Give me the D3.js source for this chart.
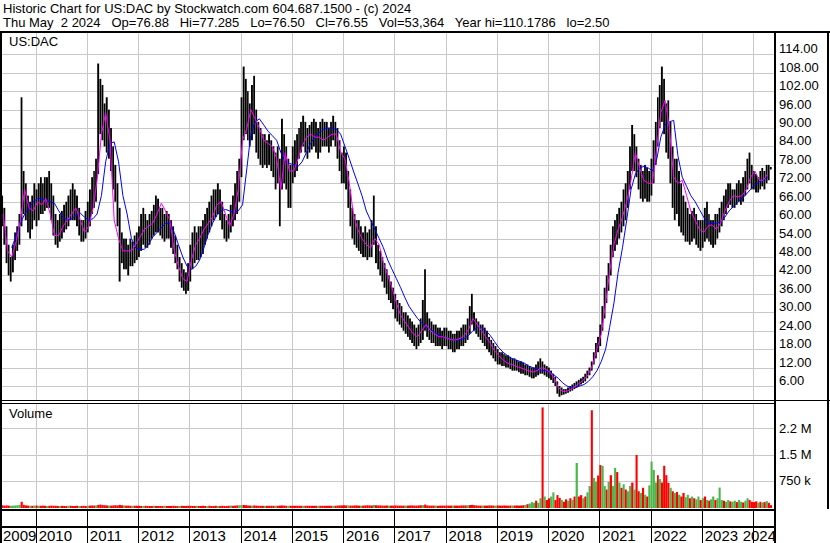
<!DOCTYPE html>
<html><head><meta charset="utf-8">
<script src="https://cdn.jsdelivr.net/npm/d3@7"></script>
<style>
html,body{margin:0;padding:0;background:#fff;}
svg{display:block;font-family:"Liberation Sans",Arial,sans-serif;}
</style></head><body>
<svg id="c" width="830" height="543"></svg>
<script>
// ---------------- DATA ----------------
// Half-month periods starting 2009-05-01 (1st and 16th of each month)
const title1 = "Historic Chart for US:DAC by Stockwatch.com 604.687.1500 - (c) 2024";
const title2 = "Thu May  2 2024   Op=76.88   Hi=77.285   Lo=76.50   Cl=76.55   Vol=53,364   Year hi=110.1786   lo=2.50";
const symbol = "US:DAC";
const priceTicks = [6,12,18,24,30,36,42,48,54,60,66,72,78,84,90,96,102,108,114];
const volTicks = [750000,1500000,2250000];
const volTickLabels = ["750 k","1.5 M","2.2 M"];
const years = [2009,2010,2011,2012,2013,2014,2015,2016,2017,2018,2019,2020,2021,2022,2023,2024];

const priceHigh = [
// 2009 (May-Dec)
68,64,58,52,48,52,56,58,62,100,76,72,68,66,68,72,
// 2010
70,72,74,72,74,74,76,72,68,62,60,62,63,65,66,68,70,72,70,68,64,60,60,63,
// 2011
66,70,74,76,80,111,106,104,98,100,96,90,84,78,72,64,56,54,54,52,54,53,55,56,
// 2012
58,62,64,62,60,62,63,65,68,67,64,64,62,63,62,60,58,55,52,48,46,44,43,46,
// 2013
52,56,58,56,58,58,60,62,64,66,68,70,70,72,70,66,62,60,62,65,68,72,76,80,
// 2014
100,110,106,102,98,104,107,96,92,90,88,88,86,88,86,84,82,84,80,93,88,84,80,78,
// 2015
84,86,88,90,92,94,92,90,91,92,93,92,90,92,93,92,92,90,92,94,92,90,86,82,
// 2016
84,82,76,70,64,62,60,60,58,56,58,56,57,60,68,58,52,50,48,46,44,42,40,38,
// 2017
36,34,33,32,30,30,29,28,27,26,25,26,28,34,44,30,28,27,26,26,25,25,24,25,
// 2018
25,24,24,23,23,24,24,25,26,26,28,32,36,30,28,27,26,26,25,24,22,21,20,19,
// 2019
18,17,17,16.5,16,16,15.5,15,15,14.5,14,14,13.5,13,13,12.5,12,12,13,14,15,14,13,12.5,
// 2020
12,11,10,9,7.5,6,5.5,5,5,5.5,6,6.5,7,7.5,8,8.5,9,10,11,12,14,17,20,22,
// 2021
26,32,38,42,46,52,58,60,62,64,66,70,72,76,84,91,88,84,80,78,76,78,77,76,
// 2022
80,86,92,100,104,110,106,98,99,92,84,80,80,76,72,68,66,64,62,63,64,62,60,60,
// 2023
60,64,66,62,60,60,62,62,64,66,68,70,72,72,70,70,72,73,72,74,76,80,82,78,
// 2024 (Jan-Apr + May 1-2)
76,75,74,76,77,76,78,78,77.3
];
const priceLow = [
// 2009
58,52,46,42,40,43,47,50,52,58,62,60,56,54,57,60,
// 2010
58,60,62,62,63,64,64,60,55,52,51,53,54,56,57,58,60,60,60,58,55,53,53,54,
// 2011
56,58,62,64,66,75,88,86,84,82,80,76,70,66,58,40,46,44,44,42,45,45,46,47,
// 2012
48,50,52,51,51,52,54,55,56,56,55,54,53,54,54,51,49,46,44,40,38,37,36,37,
// 2013
40,44,46,47,47,48,49,52,54,56,58,60,61,62,60,57,54,53,54,56,58,60,62,66,
// 2014
74,86,88,86,84,86,88,82,80,78,77,78,77,78,76,74,70,72,58,70,72,70,64,64,
// 2015
72,74,76,80,82,84,82,80,82,83,84,82,80,82,84,84,84,82,84,86,84,80,76,72,
// 2016
72,70,64,58,54,52,51,50,49,48,48,47,48,48,52,46,44,42,40,38,36,34,33,31,
// 2017
28,27,26,25,24,23,22,21,20,19,18,19,20,21,24,22,21,20,20,19,19,19,18,19,
// 2018
19,18,18,17,17,18,18,19,19,20,21,23,26,24,23,22,21,20,19,18,17,16,15,14,
// 2019
13,13,12.5,12.5,12,12,11.5,11,11,11,10.5,10,10,9.5,9.5,9,8.5,8.5,9,9.5,10,10,9.5,9,
// 2020
8.5,8,7,6,3.5,2.5,3,3.2,3.5,3.8,4.2,4.5,5,5.5,6,6.5,7,7.5,8.5,9.5,11,13,15,17,
// 2021
19,24,28,33,37,42,48,50,52,54,56,58,60,64,70,76,76,74,70,67,66,67,66,66,
// 2022
68,72,78,84,90,92,88,82,80,72,64,60,62,58,56,55,53,53,52,53,54,52,51,50,
// 2023
51,53,54,53,52,51,52,54,56,58,60,62,64,65,64,64,65,66,65,66,68,70,72,70,
// 2024
70,69,69,70,71,70,72,73,76.5
];
// Volume per half-month (thousands of shares)
const volume = [
// 2009
50,40,45,40,35,40,45,50,60,150,60,45,40,35,35,40,
// 2010
40,35,35,40,35,30,35,40,35,35,30,30,35,30,30,35,35,30,30,35,30,30,35,30,
// 2011
35,40,45,40,45,60,70,55,50,45,40,40,45,50,45,60,50,45,40,40,35,35,35,35,
// 2012
35,30,30,35,30,30,30,35,30,30,30,30,35,30,30,30,35,30,30,30,35,30,30,35,
// 2013
35,30,30,35,30,30,35,30,30,35,30,30,35,30,30,35,30,30,35,40,35,40,45,50,
// 2014
55,60,50,45,40,40,45,40,35,35,35,35,35,35,35,35,35,35,40,45,40,35,35,35,
// 2015
35,35,35,35,35,35,35,35,35,35,35,35,35,35,35,35,35,35,35,35,35,40,45,45,
// 2016
50,45,45,40,40,45,45,40,40,40,45,50,45,45,60,50,45,45,40,40,45,40,40,40,
// 2017
45,40,40,40,40,40,40,45,45,40,40,45,50,55,70,45,40,40,40,40,35,40,40,40,
// 2018
40,40,40,40,40,40,40,45,45,45,50,55,60,50,45,40,40,40,40,40,45,45,40,40,
// 2019
45,40,40,45,40,40,40,45,40,45,40,45,50,60,80,100,140,120,180,120,250,2850,300,200,
// 2020
250,300,420,200,340,260,200,150,220,180,250,200,300,1260,300,340,250,300,420,600,2770,830,720,900,
// 2021
1200,1180,600,500,720,910,600,1120,1000,700,550,650,500,450,600,700,500,1490,450,400,550,350,300,620,
// 2022
1300,1060,700,910,800,700,1180,910,690,550,450,400,430,350,300,400,280,350,250,300,250,220,300,200,
// 2023
250,300,200,180,220,300,200,250,557,200,180,150,200,160,150,180,140,200,150,130,180,250,200,150,
// 2024
140,160,120,150,130,140,170,120,53
];
// r = down day volume (red), g = up day volume (green)
const volDir =
  "rrrrgggggrrrrgrg" +
  "rgrrrgrrrrrgrrrgrrrrgrrr" +
  "grrrgrrrrrgrrrrrrgrrrgrr" +
  "rrgrrrrgrrrrgrrrrrrgrrrr" +
  "rrrgrrrrgrrrrgrrrrrgrrrg" +
  "grrrrgrrrrrgrrrrgrrrrrgr" +
  "rrrrrgrrrrrrgrrrrrrgrrrr" +
  "rrgrrrrrgrrrrrgrrrrrrgrr" +
  "rrrrrgrrrrrrrgrrrrrgrrrr" +
  "rrrgrrrrrrgrrrrrrgrrrrrg" +
  "rrrrrrrgrrrrrgrgggrggrgr" +
  "rggrrrgrrgrgrgrrgrggrggr" +
  "rggrgrggrgrgrggrgrrgrgrg" +
  "gggrgrrrrgrgrgrrggrgrggr" +
  "grgrggrgggrggrggrggrggrr" +
  "rrgrgrgrr";

// Monthly moving averages, starting May 2009 (value at mid-month)
const maShort = [
// 2009
62,50,48,53,60,70,64,63,
// 2010
66,65,67,62,55,55,58,60,62,64,60,56,
// 2011
58,64,73,88,95,86,60,54,50,50,50,52,
// 2012
54.5,57,58,59,62,65.5,63,60,50,45,41,40,
// 2013
47,52,54,57,59,61,65,66,62,58,62,70,
// 2014
86,90,96,93,90,86,85,84,80,70,82,76,
// 2015
76,80,84,87,88,87,87,86,87,88,88,82,
// 2016
80,72,62,57,54,52,51,54,52,46,42,38,
// 2017
33,29,27,25,23,22,24,26,24,23,22,22,
// 2018
21.5,21,21,21.5,22.5,24.5,28,26,24,22,20,17.5,
// 2019
16,14.5,13.5,13,12.5,12,11.5,11,10.5,11,12,11.5,
// 2020
10.5,8.5,5.5,4.3,4.3,5,6,7,8.2,9.8,13,18,
// 2021
23,33,43,52,57,61,66,73,82,77,73,72,
// 2022
72,84,95,99,90,74,72,73,68,63,60,57,
// 2023
56,58,58.5,57,59,63,66,68,67.5,68,70,74,
// 2024
76,73,73,75
];
const maLong = [
// 2009
null,null,51,55,59,62,64,66,
// 2010
67,67,66.5,66,65.5,63,61,60,60.5,61.5,62.3,61,
// 2011
60,60.5,62,68,79,85,85.5,79,68,62,54,51,
// 2012
50.5,50.5,52,54.5,56,57.5,59,59,56,52,48,45,
// 2013
44,45,47,51,55.5,59,61.5,63,63.5,63,62.5,63,
// 2014
65,77,88,92,93,91,89,87.5,86,82,79,78.5,
// 2015
78,77.5,79,82,85,87,88.5,89.5,90,90,89.5,88,
// 2016
84,80,76,72,68,63,60,57,54,51,47,44,
// 2017
41,38,35,32,30,28,26.5,25.5,24.5,23.5,22.5,22,
// 2018
21.5,21,21,21,21.5,22.5,24,25,25,24,22.5,20.5,
// 2019
18.5,17,16,15,14.5,14,13.5,12.5,12,11.5,11,11,
// 2020
10.5,9.5,8.5,7,6,5.5,5.5,6,6.5,7.5,9,11,
// 2021
14,18,25,33,43,51,60,70,75,77,77.5,77,
// 2022
76,80,87,91,92,92.5,81,74,71,68,66,63.5,
// 2023
61,59,59,59,59.5,61,63,64.5,66,67,68.5,70,
// 2024
71.5,72.5,73,74
];

// ---------------- CHART ----------------
const svg = d3.select("#c");
const W = 830, H = 543;
const plotL = 2, plotR = 774;
const priceTop = 33, priceBot = 400;
const volTop = 404, volBot = 509;
const gridColor = "#c8c8c8";

const start = new Date(2009, 4, 1);
function periodStart(i){
  const d = d3.timeMonth.offset(start, Math.floor(i/2));
  if (i % 2) d.setDate(16);
  return d;
}
function monthMid(k){
  const d = d3.timeMonth.offset(start, k);
  d.setDate(15);
  return d;
}

const x = d3.scaleTime()
  .domain([new Date(2009,3,22), new Date(2024,4,30)])
  .range([0, 774]);
const yP = d3.scaleLinear().domain([6,114]).range([386,54.3]);
const yV = d3.scaleLinear().domain([0,2250000]).range([507,428.4]);

svg.append("rect").attr("width",W).attr("height",H).attr("fill","#fff");

const defs = svg.append("defs");
defs.append("clipPath").attr("id","cp").append("rect")
  .attr("x",plotL).attr("y",priceTop).attr("width",plotR-plotL).attr("height",priceBot-priceTop);
defs.append("clipPath").attr("id","cv").append("rect")
  .attr("x",plotL).attr("y",volTop).attr("width",plotR-plotL).attr("height",volBot-volTop);

const yearDates = years.slice(1).map(y => new Date(y,0,1));

// grid
const gP = svg.append("g").attr("shape-rendering","crispEdges").attr("stroke",gridColor);
priceTicks.forEach(v => {
  gP.append("line").attr("x1",plotL).attr("x2",plotR)
    .attr("y1",Math.round(yP(v))+0.5).attr("y2",Math.round(yP(v))+0.5);
});
yearDates.forEach(d => {
  const xx = Math.round(x(d))+0.5;
  gP.append("line").attr("x1",xx).attr("x2",xx).attr("y1",priceTop).attr("y2",priceBot);
  gP.append("line").attr("x1",xx).attr("x2",xx).attr("y1",volTop).attr("y2",volBot);
});
volTicks.forEach(v => {
  gP.append("line").attr("x1",plotL).attr("x2",plotR)
    .attr("y1",Math.round(yV(v))+0.5).attr("y2",Math.round(yV(v))+0.5);
});

// price bars
const bars = svg.append("g").attr("clip-path","url(#cp)");
priceHigh.forEach((hi,i) => {
  const lo = priceLow[i];
  const x0 = x(periodStart(i)), x1 = x(periodStart(i+1));
  const y0 = yP(hi), y1 = yP(lo);
  bars.append("rect").attr("x",x0).attr("width",Math.max(1,(x1-x0)*0.85))
    .attr("y",y0).attr("height",Math.max(1,y1-y0)).attr("fill","#000");
});

// moving averages
const lineGen = d3.line()
  .defined(d => d.v != null)
  .x(d => x(d.date)).y(d => yP(d.v));
const longData = maLong.map((v,k) => ({date: monthMid(k), v}));
const shortData = maShort.map((v,k) => ({date: monthMid(k), v}));
const gl = svg.append("g").attr("clip-path","url(#cp)").attr("fill","none");
gl.append("path").attr("d",lineGen(longData)).attr("stroke","#0000ff").attr("stroke-width",1);
gl.append("path").attr("d",lineGen(shortData)).attr("stroke","#ff00ff").attr("stroke-width",1);

// volume bars
const vb = svg.append("g").attr("clip-path","url(#cv)");
volume.forEach((v,i) => {
  const x0 = x(periodStart(i)), x1 = x(periodStart(i+1));
  const yt = yV(v*1000);
  vb.append("rect").attr("x",x0).attr("width",Math.max(1,x1-x0))
    .attr("y",yt).attr("height",Math.max(1,508-yt))
    .attr("fill", volDir[i] === "g" ? "#4cb84c" : "#ff0000");
});

// frame lines
const fr = svg.append("g").attr("fill","#000").attr("shape-rendering","crispEdges");
fr.append("rect").attr("x",0).attr("y",31).attr("width",W).attr("height",2);
fr.append("rect").attr("x",0).attr("y",31).attr("width",2).attr("height",H-31);
fr.append("rect").attr("x",774).attr("y",31).attr("width",2).attr("height",H-31);
fr.append("rect").attr("x",827).attr("y",31).attr("width",2).attr("height",volBot-31);
fr.append("rect").attr("x",0).attr("y",400).attr("width",W).attr("height",1);
fr.append("rect").attr("x",0).attr("y",403).attr("width",776).attr("height",1);
fr.append("rect").attr("x",0).attr("y",volBot).attr("width",776).attr("height",2);
fr.append("rect").attr("x",0).attr("y",526).attr("width",776).attr("height",2);
yearDates.forEach(d => {
  fr.append("rect").attr("x",Math.round(x(d))).attr("y",volBot).attr("width",1).attr("height",H-volBot);
});

// texts
const txt = svg.append("g").attr("font-size",13).attr("fill","#000");
txt.append("text").attr("x",3).attr("y",13).text(title1);
txt.append("text").attr("x",3).attr("y",27).attr("xml:space","preserve").style("white-space","pre").text(title2);
txt.append("text").attr("x",9).attr("y",45.5).text(symbol);
txt.append("text").attr("x",9).attr("y",418).text("Volume");
priceTicks.forEach(v => {
  txt.append("text").attr("x",779).attr("y",yP(v)-1).text(v.toFixed(2));
});
volTicks.forEach((v,j) => {
  txt.append("text").attr("x",779).attr("y",yV(v)+4.5).text(volTickLabels[j]);
});
const yl = svg.append("g").attr("font-size",15).attr("fill","#000")
  .attr("font-family","'Liberation Sans Narrow','Arial Narrow',sans-serif");
years.forEach((yr,j) => {
  let xx, anchor = "start";
  if (j === 0) xx = 3;
  else if (yr === 2024) { xx = 776; anchor = "end"; }
  else xx = x(new Date(yr,0,1)) + 3;
  yl.append("text").attr("x",xx).attr("y",540.5).attr("text-anchor",anchor).text(yr);
});
</script>
</body></html>
